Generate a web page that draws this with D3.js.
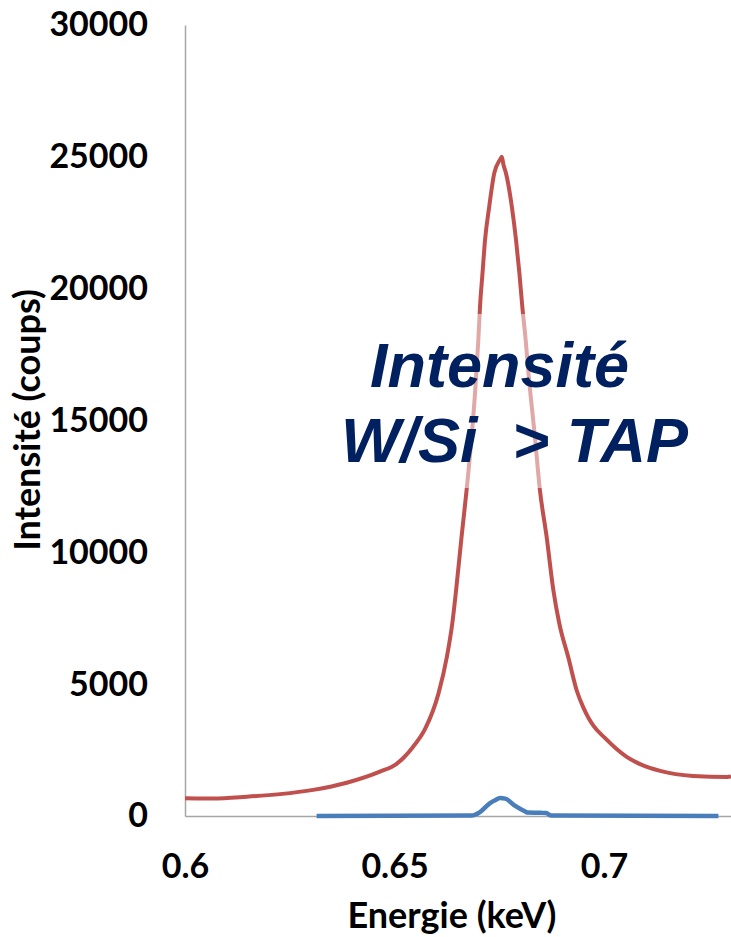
<!DOCTYPE html>
<html>
<head>
<meta charset="utf-8">
<script src="https://cdn.jsdelivr.net/npm/d3@7/dist/d3.min.js"></script>
<style>
  body { margin: 0; background: #fff; }
  svg { display: block; }
</style>
</head>
<body>
<div id="chart"></div>
<script>
var width = 731;
var height = 937;

// red spectrum (W/Si)
var redEnergy = [0.6000, 0.6067, 0.6147, 0.6227, 0.6306, 0.6386, 0.6465, 0.6505, 0.6521, 0.6544,
  0.6573, 0.6605, 0.6625, 0.6638, 0.6647, 0.6660, 0.6672, 0.6684, 0.6692, 0.6700,
  0.6704, 0.6710, 0.6716, 0.6726, 0.6738, 0.6752, 0.6756, 0.6760, 0.6766, 0.6780,
  0.6790, 0.6798, 0.6805, 0.6813, 0.6819, 0.6835, 0.6847, 0.6863, 0.6879, 0.6893,
  0.6915, 0.6935, 0.6951, 0.6963, 0.6975, 0.7002, 0.7030, 0.7054, 0.7086, 0.7134,
  0.7212, 0.7294, 0.7303];
var redCounts = [670, 665, 730, 830, 990, 1260, 1680, 1980, 2200, 2620,
  3300, 4650, 6040, 7320, 8570, 10590, 12360, 14380, 16000, 18050,
  19310, 20590, 21840, 23110, 24380, 24900, 25000, 24700, 24380, 23110,
  21840, 20590, 19310, 18050, 16910, 14380, 12360, 10590, 8570, 7320,
  6000, 4750, 4100, 3720, 3420, 2960, 2540, 2240, 1970, 1710,
  1520, 1480, 1500];

// blue spectrum (TAP)
var blueEnergy = [0.6314, 0.6684, 0.6704, 0.6728, 0.6740, 0.6752, 0.6764, 0.6788, 0.6812, 0.6818,
  0.6850, 0.6862, 0.6874, 0.7273];
var blueCounts = [0, 20, 150, 490, 600, 680, 660, 380, 170, 130,
  120, 110, 20, 0];

var yTicks = [0, 5000, 10000, 15000, 20000, 25000, 30000];
var xTicks = [0.6, 0.65, 0.7];
var xTickLabels = ['0.6', '0.65', '0.7'];

var plot = {left: 185, right: 731, top: 25, bottom: 816};

var svg = d3.select('#chart')
  .append('svg')
  .attr('width', width)
  .attr('height', height);

var x = d3.scaleLinear().domain([0.6, 0.7303]).range([plot.left, plot.right]);
var y = d3.scaleLinear().domain([0, 30000]).range([plot.bottom, plot.top]);

var yAxis = svg.append('g')
  .attr('transform', 'translate(' + plot.left + ',0)')
  .call(d3.axisLeft(y).tickValues(yTicks).tickSize(0).tickSizeOuter(0).tickPadding(37)
    .tickFormat(d3.format('d')));

var xAxis = svg.append('g')
  .attr('transform', 'translate(0,' + plot.bottom + ')')
  .call(d3.axisBottom(x).tickValues(xTicks).tickSize(0).tickSizeOuter(0).tickPadding(38)
    .tickFormat(function(d, i){ return xTickLabels[i]; }));

[yAxis, xAxis].forEach(function(g){
  g.select('.domain').attr('stroke', '#a6a6a6').attr('stroke-width', 1.5);
  g.selectAll('text')
    .style('font-family', 'Lato, sans-serif')
    .style('font-weight', 'bold')
    .style('font-size', '34px')
    .attr('fill', '#000');
});

var line = d3.line()
  .x(function(d){ return x(d[0]); })
  .y(function(d){ return y(d[1]); })
  .curve(d3.curveMonotoneX);

svg.append('path')
  .datum(d3.zip(redEnergy, redCounts))
  .attr('d', line)
  .attr('fill', 'none')
  .attr('stroke', '#c0504d')
  .attr('stroke-width', 4)
  .attr('stroke-linejoin', 'round');

svg.append('path')
  .datum(d3.zip(blueEnergy, blueCounts))
  .attr('d', line)
  .attr('fill', 'none')
  .attr('stroke', '#4a7ebb')
  .attr('stroke-width', 4.5)
  .attr('stroke-linejoin', 'round');

// axis titles
svg.append('text')
  .attr('x', 452)
  .attr('y', 928)
  .attr('text-anchor', 'middle')
  .style('font-family', 'Lato, sans-serif')
  .style('font-weight', 'bold')
  .style('font-size', '36px')
  .text('Energie (keV)');

svg.append('text')
  .attr('transform', 'translate(40,420) rotate(-90)')
  .attr('text-anchor', 'middle')
  .style('font-family', 'Lato, sans-serif')
  .style('font-weight', 'bold')
  .style('font-size', '36px')
  .text('Intensité (coups)');

// annotation box, half transparent
svg.append('rect')
  .attr('x', 335)
  .attr('y', 314)
  .attr('width', 365)
  .attr('height', 174)
  .attr('fill', '#fff')
  .attr('fill-opacity', 0.5);

var note = svg.append('g')
  .style('font-family', '"Liberation Sans", Arial, sans-serif')
  .style('font-weight', 'bold')
  .style('font-style', 'italic')
  .style('font-size', '63px')
  .attr('fill', '#002060');

note.append('text').attr('x', 370).attr('y', 387).text('Intensité');
note.append('text').attr('x', 341).attr('y', 462).text('W/Si\u00a0\u00a0> TAP');
</script>
</body>
</html>
